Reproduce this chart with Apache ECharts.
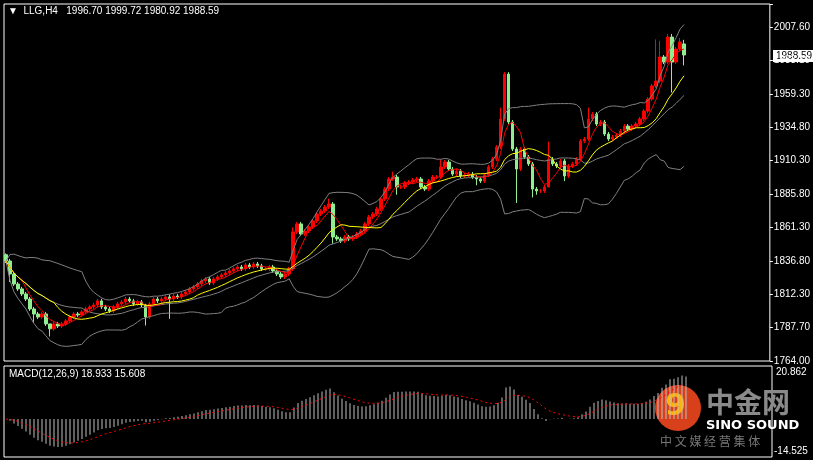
<!DOCTYPE html>
<html>
<head>
<meta charset="utf-8">
<script src="https://cdn.jsdelivr.net/npm/echarts@6/dist/echarts.min.js"></script>
<style>
html,body{margin:0;padding:0;background:#000;}
#chart{width:813px;height:460px;}
</style>
</head>
<body>
<div id="chart"></div>
<script>
// 收盘价 (H4)
var closes = [1837.4,1827.9,1820.5,1816.9,1813.2,1809.5,1802.2,1798.5,1796.3,1798.5,
  1791.2,1787.6,1791.2,1789.7,1791.2,1793.4,1796.3,1798.5,1797.8,1800.0,
  1802.2,1803.7,1805.1,1808.1,1803.7,1802.2,1800.7,1803.7,1805.9,1807.3,
  1809.5,1808.1,1805.9,1807.3,1805.1,1796.3,1805.9,1809.5,1808.1,1809.5,
  1811.0,1809.5,1811.7,1811.0,1813.2,1814.7,1816.9,1818.4,1820.5,1822.8,
  1824.2,1821.3,1824.2,1825.7,1827.2,1828.6,1830.1,1831.6,1833.0,1831.6,
  1834.5,1833.0,1835.2,1833.8,1831.6,1831.6,1833.0,1830.1,1827.9,1825.7,
  1827.9,1831.6,1858.7,1864.6,1857.2,1859.4,1862.4,1866.8,1871.9,1874.1,
  1877.0,1879.2,1855.0,1853.6,1852.1,1855.0,1853.6,1855.0,1857.2,1859.4,
  1864.6,1869.7,1871.9,1875.6,1882.9,1890.2,1897.6,1899.0,1891.7,1891.7,
  1894.6,1895.4,1896.8,1897.6,1891.7,1890.2,1896.1,1899.0,1899.0,1906.4,
  1910.0,1904.9,1901.2,1903.4,1899.8,1900.5,1901.2,1899.0,1897.6,1896.1,
  1900.5,1906.4,1912.2,1921.0,1941.6,1974.6,1939.4,1919.6,1904.9,1919.6,
  1913.7,1908.6,1890.2,1888.8,1888.8,1891.7,1912.2,1908.6,1907.1,1910.8,
  1899.8,1907.1,1908.6,1912.2,1925.4,1926.9,1941.6,1945.2,1937.9,1939.4,
  1930.6,1926.9,1928.4,1929.8,1932.8,1936.4,1934.2,1936.4,1937.9,1941.6,
  1947.4,1956.2,1965.8,1969.5,1987.1,1983.4,2001.7,1983.4,1992.9,1998.1,
  1988.59];
var firstOpen = 1842.0;
// 明显的影线 {序号: 价格}
var highWicks = {0:1843,11:1791,35:1806,41:1813,72:1862,81:1883,97:1903,109:1912,124:1950,125:1976,126:1976,136:1925,146:1950,163:2000,164:1999,166:2004,167:2004,169:2001,170:1999.72};
var lowWicks = {1:1822,7:1792,11:1782,35:1790,41:1795,82:1850,98:1886,118:1893,128:1880,132:1884,133:1886,136:1893,140:1896,162:1955,167:1961,170:1980.92};
var priceLabels = ['1764.00','1787.70','1812.30','1836.80','1861.30','1885.80','1910.30','1934.80','1959.30','1983.10','2007.60'];
var macdLabels = ['20.862','-14.525'];
var header = '\u25BC  LLG,H4   1996.70 1999.72 1980.92 1988.59';

var total = 192;
var cats = [], candles = [];
for (var i = 0; i < total; i++) {
  cats.push(String(i));
  if (i < closes.length) {
    var o = i === 0 ? firstOpen : closes[i - 1];
    if (i === closes.length - 1) o = 1996.70;
    var c = closes[i];
    var hi = highWicks[i] !== undefined ? highWicks[i] : Math.max(o, c) + 1.5;
    var lo = lowWicks[i] !== undefined ? lowWicks[i] : Math.min(o, c) - 1.5;
    candles.push([o, c, lo, hi]);
  } else candles.push('-');
}
function sma(n) {
  var out = [];
  for (var i = 0; i < total; i++) {
    if (i >= closes.length) { out.push('-'); continue; }
    var s = 0, k = 0;
    for (var j = Math.max(0, i - n + 1); j <= i; j++) { s += closes[j]; k++; }
    out.push(+(s / k).toFixed(2));
  }
  return out;
}
function band(n, d, sign) {
  var m = sma(n), out = [];
  for (var i = 0; i < total; i++) {
    if (i >= closes.length) { out.push('-'); continue; }
    var s = 0, k = 0;
    for (var j = Math.max(0, i - n + 1); j <= i; j++) { s += Math.pow(closes[j] - m[i], 2); k++; }
    out.push(+(m[i] + sign * d * Math.sqrt(s / k)).toFixed(2));
  }
  return out;
}
function ema(arr, n) {
  var a = 2 / (n + 1), out = [arr[0]];
  for (var i = 1; i < arr.length; i++) out.push(out[i - 1] + a * (arr[i] - out[i - 1]));
  return out;
}
var e12 = ema(closes, 12), e26 = ema(closes, 26);
var macd = e12.map(function (v, i) { return v - e26[i]; });
var sig = ema(macd, 9);
var macdBar = [], sigLine = [];
for (var i = 0; i < total; i++) {
  macdBar.push(i < closes.length ? +macd[i].toFixed(3) : '-');
  sigLine.push(i < closes.length ? +sig[i].toFixed(3) : '-');
}

var chart = echarts.init(document.getElementById('chart'));
var lineBase = { type: 'line', symbol: 'none', silent: true, animation: false };
var option = {
  backgroundColor: '#000',
  animation: false,
  textStyle: { fontFamily: 'Liberation Sans' },
  grid: [
    { left: 4, right: 41, top: 4, height: 357, show: true, borderColor: '#fff', borderWidth: 1 },
    { left: 4, right: 41, top: 366, height: 91, show: true, borderColor: '#fff', borderWidth: 1 }
  ],
  xAxis: [
    { type: 'category', data: cats, gridIndex: 0, boundaryGap: true, axisLine: { show: false }, axisTick: { show: false }, axisLabel: { show: false } },
    { type: 'category', data: cats, gridIndex: 1, boundaryGap: true, axisLine: { show: false }, axisTick: { show: false }, axisLabel: { show: false } }
  ],
  yAxis: [
    { type: 'value', gridIndex: 0, position: 'right', min: 1764, max: 2026, interval: 24.5,
      splitLine: { show: false }, axisLine: { show: false },
      axisTick: { show: true, length: 3, lineStyle: { color: '#fff' } },
      axisLabel: { color: '#fff', fontSize: 10, margin: 4,
        formatter: function (v) { var k = Math.round((v - 1764) / 24.5); return priceLabels[k] || ''; } } },
    { type: 'value', gridIndex: 1, position: 'right', min: -16.8, max: 23.5,
      splitLine: { show: false }, axisLine: { show: false }, axisTick: { show: false }, axisLabel: { show: false } }
  ],
  series: [
    Object.assign({}, lineBase, { data: band(20, 2, 1), lineStyle: { color: '#808080', width: 1 } }),
    Object.assign({}, lineBase, { data: sma(20), lineStyle: { color: '#808080', width: 1 } }),
    Object.assign({}, lineBase, { data: band(20, 2, -1), lineStyle: { color: '#808080', width: 1 } }),
    { type: 'candlestick', data: candles, barWidth: 3, silent: true,
      itemStyle: { color: '#ff0000', color0: '#90ee90', borderColor: '#ff0000', borderColor0: '#90ee90', borderWidth: 1 } },
    Object.assign({}, lineBase, { data: sma(5), lineStyle: { color: '#ff0000', width: 1 } }),
    Object.assign({}, lineBase, { data: sma(13), lineStyle: { color: '#ffff00', width: 1 } }),
    { type: 'bar', xAxisIndex: 1, yAxisIndex: 1, data: macdBar, barWidth: 1, silent: true, itemStyle: { color: '#c0c0c0' } },
    Object.assign({}, lineBase, { xAxisIndex: 1, yAxisIndex: 1, data: sigLine, lineStyle: { color: '#ff0000', width: 1, type: [2, 3] } }),
    { type: 'line', data: [], markLine: { silent: true, symbol: 'none', label: { show: false }, data: [] } }
  ],
  graphic: [
    { type: 'text', left: 8, top: 6, style: { text: header, fill: '#fff', fontSize: 10, fontFamily: 'Liberation Sans' } },
    { type: 'text', left: 9, top: 369, style: { text: 'MACD(12,26,9) 18.933 15.608', fill: '#fff', fontSize: 10, fontFamily: 'Liberation Sans' } },
    { type: 'text', left: 776, top: 367, style: { text: macdLabels[0], fill: '#fff', fontSize: 10, fontFamily: 'Liberation Sans' } },
    { type: 'text', left: 774, top: 446, style: { text: macdLabels[1], fill: '#fff', fontSize: 10, fontFamily: 'Liberation Sans' } },
    { type: 'rect', shape: { x: 773, y: 50, width: 40, height: 12 }, style: { fill: '#fff' } },
    { type: 'text', left: 776, top: 51, style: { text: closes[closes.length - 1].toFixed(2), fill: '#000', fontSize: 10, fontFamily: 'Liberation Sans' } },
    { type: 'circle', shape: { cx: 678, cy: 408, r: 23 }, style: { fill: '#d8401c' } },
    { type: 'text', left: 665, top: 392, style: { text: '9', fill: '#ffb000', fontSize: 30, fontWeight: 'bold', fontFamily: 'DejaVu Sans' } },
    { type: 'text', left: 706, top: 388, style: { text: '中金网', fill: '#8a8a8a', fontSize: 28, fontWeight: 'bold', fontFamily: 'Noto Sans CJK SC' } },
    { type: 'text', left: 706, top: 419, style: { text: 'SINO SOUND', fill: '#fff', fontSize: 13, fontWeight: 'bold', fontFamily: 'DejaVu Sans' } },
    { type: 'text', left: 660, top: 435, style: { text: '中 文 媒 经 营 集 体', fill: '#777', fontSize: 12, fontFamily: 'Noto Sans CJK SC' } }
  ]
};
chart.setOption(option);
</script>
</body>
</html>
